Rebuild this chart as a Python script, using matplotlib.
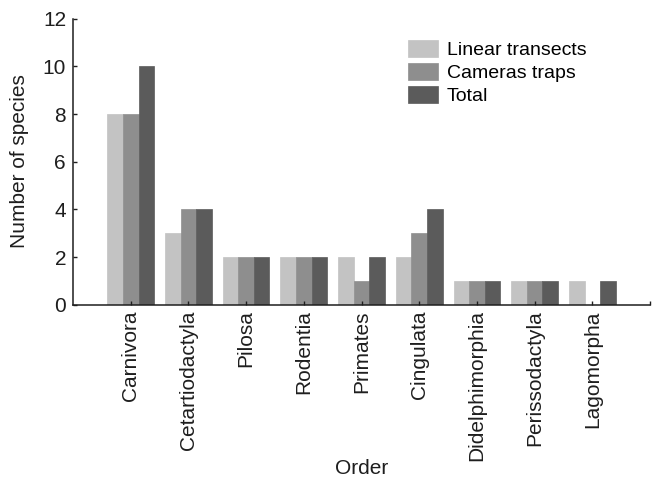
import matplotlib

matplotlib.use("Agg")
import matplotlib.pyplot as plt
import numpy as np

plt.rcParams["font.family"] = ["Liberation Sans", "DejaVu Sans"]

orders = ["Carnivora", "Cetartiodactyla", "Pilosa", "Rodentia", "Primates",
          "Cingulata", "Didelphimorphia", "Perissodactyla", "Lagomorpha"]
linear_transects = [8, 3, 2, 2, 2, 2, 1, 1, 1]
camera_traps = [8, 4, 2, 2, 1, 3, 1, 1, 0]
total = [10, 4, 2, 2, 2, 4, 1, 1, 1]

series = [
    ("Linear transects", linear_transects, "#c3c3c3"),
    ("Cameras traps", camera_traps, "#8e8e8e"),
    ("Total", total, "#5b5b5b"),
]
TEXT = "#1e1e1e"

fig = plt.figure(figsize=(6.52, 4.8), dpi=100)
ax = fig.add_axes([0.112, 0.365, 0.885, 0.596])

x = np.arange(1, len(orders) + 1)
width = 0.27
for i, (label, values, color) in enumerate(series):
    ax.bar(x + (i - 1) * width, values, width, color=color,
           edgecolor=color, linewidth=0.5, label=label)

ax.set_xlim(0, len(orders) + 1)
ax.set_ylim(0, 12)
ax.set_yticks(range(0, 13, 2))
ax.set_xticks(list(x) + [len(orders) + 1])
ax.set_xticklabels(orders + [""], rotation=90)
ax.tick_params(direction="in", length=3, width=1, labelsize=15, colors=TEXT)
ax.tick_params(axis="y", pad=5)
ax.tick_params(axis="x", pad=4)
ax.spines[["top", "right"]].set_visible(False)
for side in ("left", "bottom"):
    ax.spines[side].set_linewidth(1.1)
    ax.spines[side].set_color(TEXT)

fig.text(0.554, 1 - 469 / 480, "Order", fontsize=15, color=TEXT,
         ha="center", va="center")
fig.text(20 / 652, 1 - 161 / 480, "Number of species", fontsize=15, color=TEXT,
         ha="center", va="center", rotation=90)

ax.legend(loc="upper left", bbox_to_anchor=(0.58, 0.925), frameon=False,
          fontsize=14, handlelength=1.55, handleheight=0.95,
          handletextpad=0.45, labelspacing=0.2, borderpad=0, borderaxespad=0)

fig.savefig("out.png", dpi=100)
plt.close(fig)
